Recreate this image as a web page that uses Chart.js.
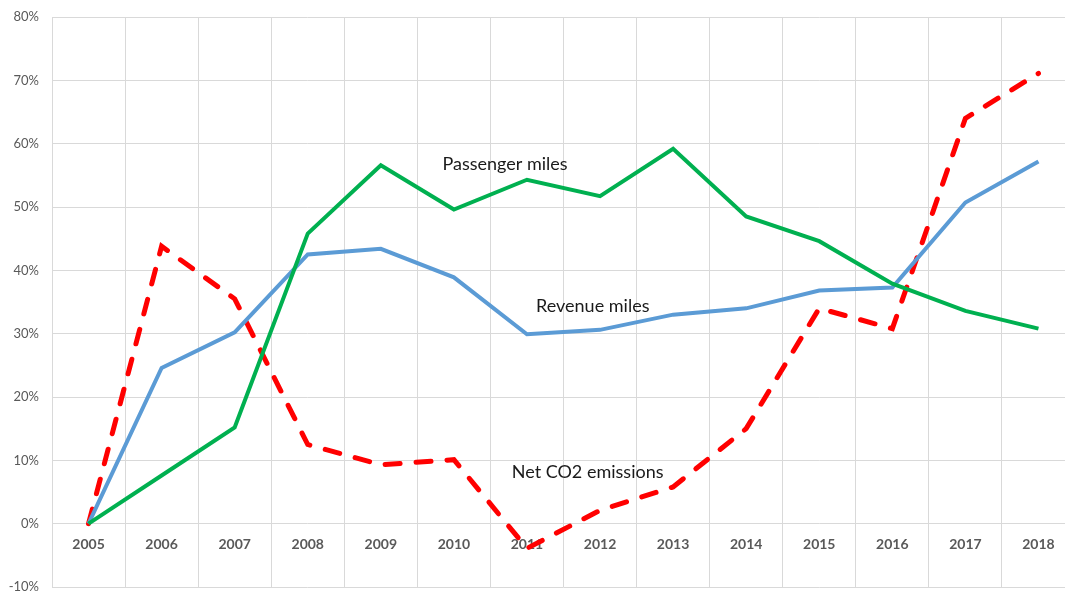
<!DOCTYPE html>
<html>
<head>
<meta charset="utf-8">
<script src="https://cdn.jsdelivr.net/npm/chart.js@4"></script>
<style>
    html, body { margin: 0; padding: 0; background: #fff; overflow: hidden; }
    #wrap { width: 1065px; height: 594px; overflow: hidden; position: relative; }
</style>
</head>
<body>
<div id="wrap">
    <canvas id="chart" width="1080" height="594"></canvas>
</div>
<script>
const years = ['2005', '2006', '2007', '2008', '2009', '2010', '2011', '2012', '2013', '2014', '2015', '2016', '2017', '2018'];

const passengerMiles = [0, 7.6, 15.2, 45.8, 56.6, 49.6, 54.3, 51.7, 59.2, 48.5, 44.6, 37.9, 33.6, 30.8];
const revenueMiles = [0, 24.6, 30.2, 42.5, 43.4, 38.9, 29.9, 30.6, 33.0, 34.0, 36.8, 37.3, 50.7, 57.2];
const netCO2 = [0, 43.8, 35.5, 12.5, 9.3, 10.1, -3.9, 2.1, 5.8, 15.0, 34.0, 30.8, 64.0, 71.1];

const yTicks = [-10, 0, 10, 20, 30, 40, 50, 60, 70, 80];

// in-chart series labels, placed in data space (category index, percent)
const seriesLabels = [
    { text: 'Passenger miles', x: 5.70, y: 56.7 },
    { text: 'Revenue miles', x: 6.90, y: 34.4 },
    { text: 'Net CO2 emissions', x: 6.83, y: 8.2 },
];

const labelPlugin = {
    id: 'seriesLabels',
    afterDatasetsDraw(chart) {
        const ctx = chart.ctx;
        const xs = chart.scales.x;
        const ys = chart.scales.y;
        ctx.save();
        ctx.font = '18px Lato';
        ctx.fillStyle = '#1a1a1a';
        ctx.textAlign = 'center';
        ctx.textBaseline = 'middle';
        seriesLabels.forEach(l => {
            ctx.fillText(l.text, xs.getPixelForValue(l.x), ys.getPixelForValue(l.y));
        });
        ctx.restore();
    }
};

const ctx = document.getElementById('chart').getContext('2d');

new Chart(ctx, {
    type: 'line',
    data: {
        labels: years,
        datasets: [
            {
                label: 'Passenger miles',
                data: passengerMiles,
                borderColor: '#00B050',
                borderWidth: 4,
                pointRadius: 0,
                tension: 0,
            },
            {
                label: 'Revenue miles',
                data: revenueMiles,
                borderColor: '#5B9BD5',
                borderWidth: 4,
                pointRadius: 0,
                tension: 0,
            },
            {
                label: 'Net CO2 emissions',
                data: netCO2,
                borderColor: '#FF0000',
                borderWidth: 5,
                borderDash: [15, 16],
                borderCapStyle: 'round',
                pointRadius: 0,
                tension: 0,
            },
        ],
    },
    options: {
        responsive: false,
        animation: false,
        layout: { padding: { left: 0, right: 5, top: 17, bottom: 7 } },
        plugins: {
            legend: { display: false },
            tooltip: { enabled: false },
        },
        scales: {
            x: {
                position: { y: 0 },
                offset: true,
                afterFit: s => { s.height = 0; },
                grid: { offset: true, color: '#D9D9D9', lineWidth: 1, drawTicks: false },
                border: { display: false },
                ticks: {
                    padding: 12,
                    color: '#595959',
                    font: { family: 'Lato', size: 14, weight: 'bold' },
                    maxRotation: 0,
                },
            },
            y: {
                min: -10,
                max: 80,
                afterFit: s => {
                    s.width = 52;
                    s.paddingTop = 0;
                    s.paddingBottom = 0;
                },
                afterBuildTicks: s => { s.ticks = yTicks.map(v => ({ value: v })); },
                grid: { color: '#D9D9D9', lineWidth: 1, drawTicks: false },
                border: { display: false },
                ticks: {
                    padding: 13,
                    color: '#595959',
                    font: { family: 'Lato', size: 13, lineHeight: 1 },
                    callback: v => v + '%',
                },
            },
        },
    },
    plugins: [labelPlugin],
});
</script>
</body>
</html>
